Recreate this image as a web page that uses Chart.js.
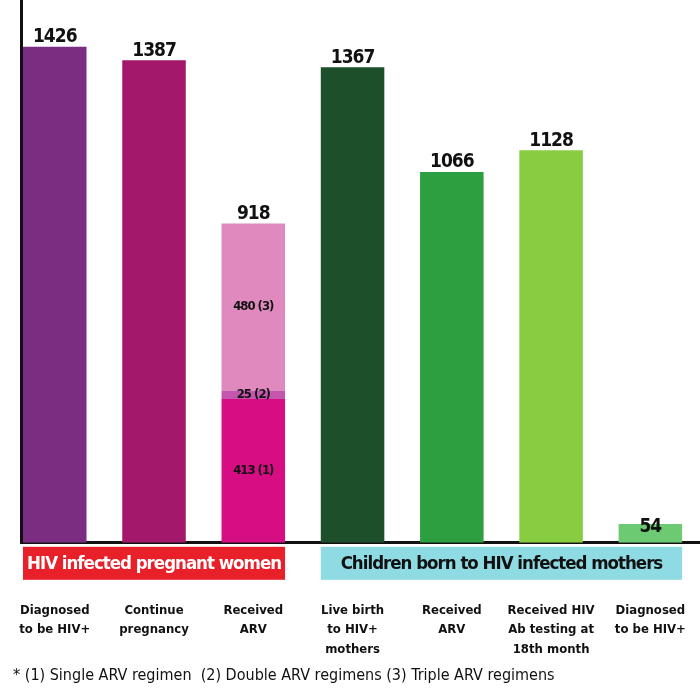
<!DOCTYPE html>
<html>
<head>
<meta charset="utf-8">
<script src="https://cdn.jsdelivr.net/npm/chart.js@4/dist/chart.umd.min.js"></script>
<style>
  html, body { margin: 0; padding: 0; background: #fff; }
  #wrap { width: 700px; height: 689px; }
</style>
</head>
<body>
<div id="wrap"><canvas id="chart"></canvas></div>
<script>
// categories on the x axis (one slot each)
const categories = [
    ['Diagnosed', 'to be HIV+'],
    ['Continue', 'pregnancy'],
    ['Received', 'ARV'],
    ['Live birth', 'to HIV+', 'mothers'],
    ['Received', 'ARV'],
    ['Received HIV', 'Ab testing at', '18th month'],
    ['Diagnosed', 'to be HIV+']
];
const totals = [1426, 1387, 918, 1367, 1066, 1128, 54];
const barColors = ['#7b2d82', '#a3186a', null, '#1d4f2a', '#2e9f41', '#88cd3f', '#6ccb72'];

// "Received ARV" split by regimen
const arvIndex = 2;
const arvValues = [413, 25, 480];
const arvLabels = ['413 (1)', '25 (2)', '480 (3)'];
const arvColors = ['#d70d84', '#c456ae', '#df89be'];

const groups = [
    { label: 'HIV infected pregnant women', from: 0, to: 2, fill: '#e8202a', text: '#fff' },
    { label: 'Children born to HIV infected mothers', from: 3, to: 6, fill: '#8fdbe3', text: '#111' }
];
const footnote = '* (1) Single ARV regimen  (2) Double ARV regimens (3) Triple ARV regimens';

const FONT = "'DejaVu Sans Condensed', 'Liberation Sans Narrow', 'DejaVu Sans', sans-serif";

let datasets = [];
datasets.push({
    label: 'total',
    data: totals.map((v, i) => ({ x: i, y: i === arvIndex ? null : v })),
    backgroundColor: barColors
});
arvValues.forEach((v, k) => {
    datasets.push({
        label: arvLabels[k],
        data: [{ x: arvIndex, y: v }],
        backgroundColor: arvColors[k]
    });
});

// value labels on top of bars and inside the ARV segments
const valueLabels = {
    id: 'valueLabels',
    afterDatasetsDraw(chart) {
        const ctx = chart.ctx;
        const y = chart.scales.y;
        const x = chart.scales.x;
        const area = chart.chartArea;
        ctx.save();
        ctx.fillStyle = '#111';
        ctx.textAlign = 'center';
        ctx.textBaseline = 'bottom';
        ctx.letterSpacing = '-1px';
        ctx.font = 'bold 19px ' + FONT;
        totals.forEach((v, i) => {
            let top = y.getPixelForValue(v);
            if (area.bottom - top < 30) top = area.bottom - 6;   // small bar: label inside
            ctx.fillText(String(v), x.getPixelForValue(i), top);
        });
        ctx.font = 'bold 13px ' + FONT;
        ctx.textBaseline = 'middle';
        arvValues.forEach((v, k) => {
            const el = chart.getDatasetMeta(k + 1).data[0];
            ctx.fillText(arvLabels[k], el.x, (el.y + el.base) / 2);
        });
        ctx.restore();
    }
};

// coloured group boxes under the axis
const groupBands = {
    id: 'groupBands',
    afterDraw(chart) {
        const ctx = chart.ctx;
        const area = chart.chartArea;
        const x = chart.scales.x;
        const half = chart.getDatasetMeta(0).data[0].width / 2;
        ctx.save();
        ctx.letterSpacing = '-1px';
        groups.forEach(g => {
            const left = Math.max(area.left, x.getPixelForValue(g.from) - half);
            const right = x.getPixelForValue(g.to) + half;
            ctx.fillStyle = g.fill;
            ctx.fillRect(left, area.bottom + 4, right - left, 33);
            ctx.fillStyle = g.text;
            ctx.font = 'bold 18.5px ' + FONT;
            ctx.textAlign = 'center';
            ctx.textBaseline = 'middle';
            ctx.fillText(g.label, (left + right) / 2, area.bottom + 21);
        });
        ctx.restore();
    }
};

const chart = new Chart(document.getElementById('chart'), {
    type: 'bar',
    data: { datasets: datasets },
    options: {
        responsive: true,
        maintainAspectRatio: false,
        animation: false,
        layout: { padding: { left: 13, right: 0, top: 0, bottom: 4 } },
        categoryPercentage: 0.8,
        barPercentage: 0.8,
        scales: {
            x: {
                type: 'linear',
                min: -0.34,
                max: 6.5,
                offset: false,
                stacked: true,
                grid: { display: false },
                border: { display: true, width: 3, color: '#111' },
                ticks: {
                    stepSize: 1,
                    includeBounds: false,
                    autoSkip: false,
                    maxRotation: 0,
                    padding: 50,
                    color: '#111',
                    font: { family: FONT, size: 13, weight: 'bold', lineHeight: 1.5 },
                    callback: v => categories[v] || ''
                },
                afterFit: scale => {
                    scale.height = 117;
                    scale.paddingLeft = 0;
                    scale.paddingRight = 0;
                }
            },
            y: {
                min: 0,
                max: 1560,
                stacked: true,
                grid: { display: false },
                border: { display: true, width: 3, color: '#111' },
                ticks: { display: false }
            }
        },
        plugins: {
            legend: { display: false },
            tooltip: { enabled: false },
            title: {
                display: true,
                position: 'bottom',
                align: 'start',
                text: footnote,
                color: '#111',
                font: { family: FONT, size: 16, weight: 'normal' },
                padding: { top: 6, bottom: 0 }
            }
        }
    },
    plugins: [valueLabels, groupBands]
});
</script>
</body>
</html>
